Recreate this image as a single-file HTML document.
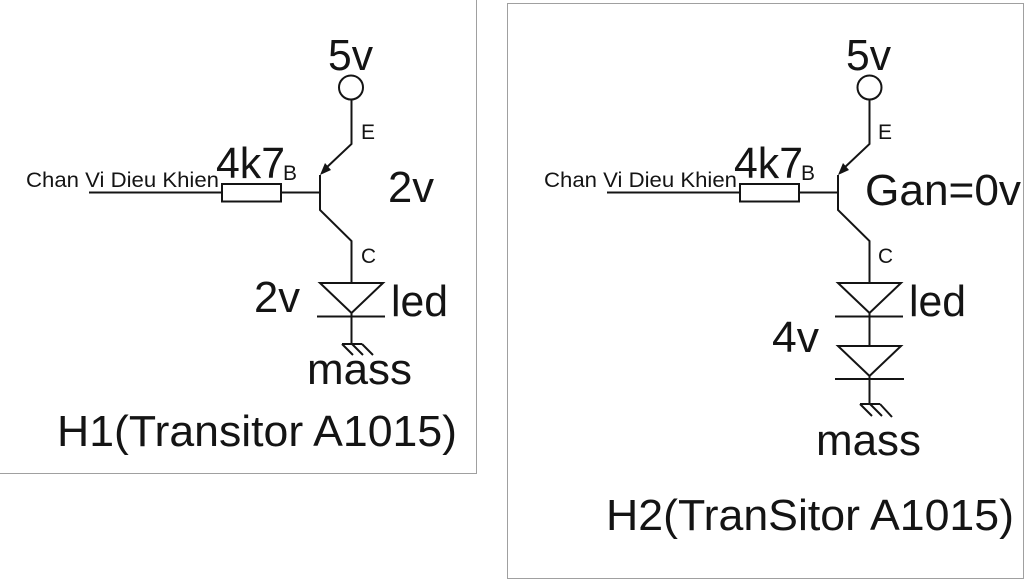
<!DOCTYPE html>
<html>
<head>
<meta charset="utf-8">
<style>
html,body{margin:0;padding:0;background:#fff}
svg{display:block}
text{font-family:"Liberation Sans",sans-serif;fill:#141414}
.l{stroke:#141414;stroke-width:2;fill:none}
.n{font-size:44px}
.s{font-size:21px}
.b{filter:blur(0.35px)}
</style>
</head>
<body>
<svg width="1024" height="580" viewBox="0 0 1024 580" xmlns="http://www.w3.org/2000/svg">
<rect width="1024" height="580" fill="#fff"/>
<path d="M476.5 0V473.5H0" fill="none" stroke="#a0a0a0"/>
<rect x="507.5" y="3.5" width="516" height="575" fill="none" stroke="#a0a0a0"/>

<g class="b">
<!-- Left circuit -->
<circle class="l" cx="351" cy="87.5" r="12"/>
<path class="l" d="M351.5 100V144L325 169"/>
<path d="M320 175L325 163L331 170Z" fill="#141414"/>
<path class="l" d="M320 175V210L351.5 241V283"/>
<path class="l" d="M89 192.5H222M281 192.5H320"/>
<rect class="l" x="222" y="184" width="59" height="17.5"/>
<path class="l" d="M320 283H383L351.5 313ZM317 316.5H385M351.5 313V344M342 344H362M342 344L353 355M352 344L363 355M362 344L373 355"/>
<text class="n" x="328" y="70" textLength="45" lengthAdjust="spacingAndGlyphs">5v</text>
<text class="n" x="216" y="178" textLength="69" lengthAdjust="spacingAndGlyphs">4k7</text>
<text class="s" x="26" y="187" textLength="193" lengthAdjust="spacingAndGlyphs">Chan Vi Dieu Khien</text>
<text class="s" x="283" y="180" textLength="14" lengthAdjust="spacingAndGlyphs">B</text>
<text class="s" x="361" y="139" textLength="14" lengthAdjust="spacingAndGlyphs">E</text>
<text class="s" x="361" y="263" textLength="15" lengthAdjust="spacingAndGlyphs">C</text>
<text class="n" x="388" y="202" textLength="46" lengthAdjust="spacingAndGlyphs">2v</text>
<text class="n" x="254" y="312" textLength="46" lengthAdjust="spacingAndGlyphs">2v</text>
<text class="n" x="391" y="316" textLength="57" lengthAdjust="spacingAndGlyphs">led</text>
<text class="n" x="307" y="384" textLength="105" lengthAdjust="spacingAndGlyphs">mass</text>
<text class="n" x="57" y="446" textLength="400" lengthAdjust="spacingAndGlyphs">H1(Transitor A1015)</text>

<!-- Right circuit -->
<circle class="l" cx="869.5" cy="87.5" r="12"/>
<path class="l" d="M869.5 100V144L843 169"/>
<path d="M838 175L843 163L849 170Z" fill="#141414"/>
<path class="l" d="M838 175V210L869.5 241V283"/>
<path class="l" d="M607 192.5H740M799 192.5H838"/>
<rect class="l" x="740" y="184" width="59" height="17.5"/>
<path class="l" d="M838 283H901L869.5 313ZM835 316.5H903M869.5 313V346M838 346H901L869.5 376ZM835 379H904M869.5 376V404M860 404H880M860 404L872 416M870 404L882 416M880 404L892 417"/>
<text class="n" x="846" y="70" textLength="45" lengthAdjust="spacingAndGlyphs">5v</text>
<text class="n" x="734" y="178" textLength="69" lengthAdjust="spacingAndGlyphs">4k7</text>
<text class="s" x="544" y="187" textLength="193" lengthAdjust="spacingAndGlyphs">Chan Vi Dieu Khien</text>
<text class="s" x="801" y="180" textLength="14" lengthAdjust="spacingAndGlyphs">B</text>
<text class="s" x="878" y="139" textLength="14" lengthAdjust="spacingAndGlyphs">E</text>
<text class="s" x="878" y="263" textLength="15" lengthAdjust="spacingAndGlyphs">C</text>
<text class="n" x="865" y="205" textLength="156" lengthAdjust="spacingAndGlyphs">Gan=0v</text>
<text class="n" x="772" y="352" textLength="47" lengthAdjust="spacingAndGlyphs">4v</text>
<text class="n" x="909" y="316" textLength="57" lengthAdjust="spacingAndGlyphs">led</text>
<text class="n" x="816" y="455" textLength="105" lengthAdjust="spacingAndGlyphs">mass</text>
<text class="n" x="606" y="530" textLength="408" lengthAdjust="spacingAndGlyphs">H2(TranSitor A1015)</text>
</g>
</svg>
</body>
</html>
